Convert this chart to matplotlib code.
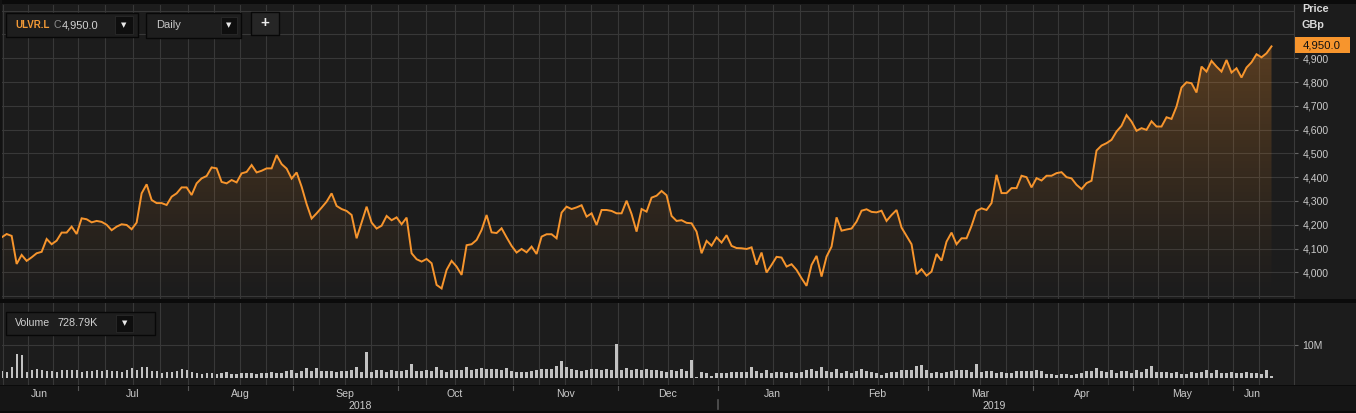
import numpy as np
import matplotlib
matplotlib.use("Agg")
import matplotlib.pyplot as plt
from matplotlib.patches import Rectangle

# ---------------------------------------------------------------------------
# Data (one value per trading day)
# ---------------------------------------------------------------------------

ticker = "ULVR.L"
interval = "Daily"
last_price = 4950.0
last_volume = "728.79K"

close = [
    # Jun - Sep 2018
    4147, 4161, 4153, 4035, 4073, 4048, 4063, 4080, 4086, 4140,
    4118, 4133, 4167, 4167, 4192, 4161, 4227, 4223, 4210, 4216,
    4212, 4200, 4177, 4192, 4202, 4199, 4181, 4209, 4332, 4370,
    4304, 4291, 4291, 4283, 4318, 4332, 4357, 4357, 4325, 4374,
    4395, 4405, 4441, 4437, 4380, 4374, 4388, 4378, 4416, 4422,
    4451, 4420, 4427, 4437, 4437, 4493, 4455, 4436, 4394, 4420,
    4360, 4287, 4226, 4248, 4272, 4297,
    # Sep - Dec 2018
    4332, 4279, 4266, 4258, 4241, 4143, 4209, 4276, 4209, 4184,
    4196, 4237, 4219, 4231, 4202, 4230, 4080, 4055, 4045, 4056,
    4038, 3947, 3932, 4010, 4048, 4024, 3989, 4114, 4118, 4136,
    4178, 4241, 4168, 4165, 4185, 4147, 4111, 4083, 4098, 4084,
    4108, 4077, 4150, 4160, 4160, 4143, 4251, 4276, 4266, 4273,
    4282, 4234, 4248, 4199, 4262, 4262, 4258, 4248, 4248, 4301,
    4245, 4171, 4266, 4255, 4314, 4322,
    # Dec 2018 - Mar 2019
    4342, 4324, 4237, 4216, 4219, 4208, 4206, 4171, 4080, 4132,
    4112, 4147, 4125, 4156, 4111, 4102, 4101, 4098, 4105, 4032,
    4083, 3999, 4031, 4065, 4062, 4024, 4034, 4010, 3975, 3943,
    4031, 4069, 3982, 4066, 4108, 4231, 4175, 4180, 4184, 4213,
    4259, 4265, 4254, 4252, 4259, 4216, 4241, 4262, 4188, 4153,
    4118, 3992, 4013, 3986, 4003, 4077, 4049, 4129, 4167, 4118,
    4143, 4143, 4195, 4258, 4269, 4262,
    # Mar - Jun 2019
    4291, 4410, 4333, 4333, 4354, 4354, 4406, 4400, 4357, 4396,
    4386, 4406, 4406, 4417, 4421, 4400, 4395, 4368, 4350, 4375,
    4385, 4512, 4533, 4543, 4557, 4592, 4616, 4661, 4634, 4595,
    4606, 4599, 4635, 4613, 4613, 4652, 4645, 4697, 4777, 4799,
    4795, 4756, 4865, 4844, 4889, 4865, 4844, 4893, 4840, 4858,
    4819, 4861, 4883, 4917, 4904, 4921, 4950,
]

# volume in millions of shares
volume_m = [
    2.1, 1.8, 3.2, 7.4, 6.9, 1.8, 2.3, 2.7, 2.3, 2.2,
    2.0, 1.8, 2.3, 2.3, 2.3, 2.5, 1.8, 2.0, 2.1, 2.4,
    2.0, 2.3, 2.0, 2.2, 1.9, 2.3, 3.1, 2.3, 3.2, 3.2,
    2.2, 2.1, 1.6, 1.7, 1.8, 2.0, 2.7, 2.5, 1.7, 1.4,
    1.3, 1.5, 1.6, 1.3, 1.6, 1.9, 1.3, 1.3, 1.4, 1.5,
    1.5, 1.3, 1.5, 1.6, 1.7, 1.4, 1.6, 2.0, 2.5, 1.6,
    2.0, 3.1, 2.0, 2.9, 2.1, 2.1, 2.2, 1.8, 2.1, 2.2,
    2.3, 3.2, 1.8, 8.0, 1.8, 2.3, 2.3, 1.9, 2.5, 2.0,
    2.1, 2.3, 4.1, 2.2, 2.0, 2.4, 2.2, 3.3, 2.5, 1.8,
    2.3, 2.5, 2.3, 3.2, 2.4, 2.8, 2.9, 2.8, 2.6, 2.7,
    2.3, 3.1, 2.0, 1.8, 1.9, 1.9, 2.1, 2.3, 2.6, 2.7,
    2.7, 3.6, 5.0, 3.2, 2.6, 2.5, 2.0, 2.3, 2.6, 2.7,
    2.5, 2.7, 2.5, 10.4, 2.3, 3.1, 2.3, 2.7, 2.5, 2.6,
    2.4, 2.3, 2.2, 1.9, 2.4, 2.0, 2.8, 2.0, 5.3, 0.2,
    1.7, 1.6, 0.5, 1.5, 1.6, 1.5, 1.7, 1.8, 1.7, 1.9,
    3.3, 2.0, 1.6, 2.4, 1.4, 1.8, 1.9, 1.6, 1.7, 1.6,
    1.9, 2.3, 2.6, 2.2, 3.3, 2.2, 1.8, 2.6, 1.6, 2.2,
    1.5, 2.0, 2.6, 2.0, 1.8, 1.5, 1.0, 1.6, 1.7, 1.9,
    2.3, 2.4, 2.3, 3.6, 3.9, 2.3, 1.6, 1.7, 1.6, 1.8,
    2.0, 2.4, 2.4, 2.4, 1.9, 4.1, 1.8, 2.1, 2.0, 1.6,
    1.8, 1.5, 1.6, 2.0, 2.0, 2.2, 2.0, 2.3, 2.1, 1.3,
    1.2, 1.0, 1.1, 1.2, 1.0, 1.3, 1.6, 2.2, 2.0, 2.9,
    2.2, 1.8, 2.3, 1.5, 2.0, 2.0, 1.6, 2.3, 1.9, 2.6,
    3.5, 1.8, 1.7, 1.8, 1.4, 1.8, 1.3, 1.2, 1.8, 1.6,
    1.9, 2.3, 1.5, 2.3, 1.6, 1.4, 1.7, 1.5, 1.6, 1.7,
    1.5, 1.6, 1.3, 2.3, 0.73,
]

# index of the first trading day of each month (June 2018 began before the series)
month_start_idx = [-4, 16, 38, 59, 80, 103, 124, 144, 166, 186, 207, 227, 247]
month_names = ["Jun", "Jul", "Aug", "Sep", "Oct", "Nov", "Dec",
               "Jan", "Feb", "Mar", "Apr", "May", "Jun"]
year_names = ["2018", "2019"]
year_first_month = [0, 7]

price_ticks = [4000, 4100, 4200, 4300, 4400, 4500, 4600, 4700, 4800, 4900]
volume_ticks = [10]

# ---------------------------------------------------------------------------
# Style
# ---------------------------------------------------------------------------

W, H = 1356, 413
BG = "#1c1c1c"
DARK = "#0b0b0b"
GRID = "#383838"
ORANGE = "#f7952d"
TXT = "#cacaca"

plt.rcParams["font.family"] = ["Liberation Sans", "DejaVu Sans"]


def rect(x0, y0, x1, y1):
    """pixel box (top-left origin) -> figure fraction [l, b, w, h]"""
    return [x0 / W, 1 - y1 / H, (x1 - x0) / W, (y1 - y0) / H]


n = len(close)
x = np.arange(n)
xmin, xmax = 0.07, 258.5
p_lo, p_hi = 3887.7, 5124.0

bounds = [m - 0.8 for m in month_start_idx]
grid_x = []
for k, b in enumerate(bounds):
    nxt = bounds[k + 1] if k + 1 < len(bounds) else b + 21
    for q in range(4):
        gx = b + q * (nxt - b) / 4
        if xmin < gx < n:
            grid_x.append(gx)

fig = plt.figure(figsize=(W / 100, H / 100), dpi=100, facecolor=BG)

# ---------------------------------------------------------------------------
# Price panel
# ---------------------------------------------------------------------------

ax = fig.add_axes(rect(2, 5, 1294, 299), facecolor=BG)
for gx in grid_x:
    ax.axvline(gx, color=GRID, lw=0.8, zorder=0)
for p in range(3900, 5200, 100):
    ax.axhline(p, color=GRID, lw=0.8, zorder=0)

poly = ax.fill_between(x, close, p_lo, color="none", lw=0)
t = np.linspace(0, 1, 256)
grad = np.zeros((256, 1, 4))
grad[:, 0, 0] = 0.97
grad[:, 0, 1] = 0.58
grad[:, 0, 2] = 0.18
grad[:, 0, 3] = 0.29 * t ** 1.15
im = ax.imshow(grad, extent=[x[0], x[-1], p_lo, 5000], origin="lower",
               aspect="auto", zorder=1, interpolation="bilinear")
im.set_clip_path(poly.get_paths()[0], transform=ax.transData)
ax.plot(x, close, color=ORANGE, lw=1.4, zorder=3, solid_joinstyle="miter")

ax.set_xlim(xmin, xmax)
ax.set_ylim(p_lo, p_hi)
ax.set_xticks([])
ax.yaxis.tick_right()
ax.set_yticks(price_ticks)
ax.set_yticklabels([f"{v:,}" for v in price_ticks])
ax.tick_params(axis="y", colors="#666666", labelcolor=TXT, length=3,
               width=0.8, pad=3, labelsize=7.6)
for s in ["top", "left", "bottom"]:
    ax.spines[s].set_visible(False)
ax.spines["right"].set_color("#3a3a3a")

# ---------------------------------------------------------------------------
# Volume panel
# ---------------------------------------------------------------------------

av = fig.add_axes(rect(2, 303, 1294, 385), facecolor=BG)
for gx in grid_x:
    av.axvline(gx, color=GRID, lw=0.8, zorder=0)
for v in volume_ticks:
    av.axhline(v, color=GRID, lw=0.8, zorder=0)
av.bar(x, volume_m, width=0.45, color="#c2c2c2", zorder=2)
av.set_xlim(xmin, xmax)
av.set_ylim(-2.12, 22.7)
av.set_xticks([])
av.yaxis.tick_right()
av.set_yticks(volume_ticks)
av.set_yticklabels([f"{v}M" for v in volume_ticks])
av.tick_params(axis="y", colors="#666666", labelcolor=TXT, length=3,
               width=0.8, pad=3, labelsize=7.6)
for s in ["top", "left", "bottom"]:
    av.spines[s].set_visible(False)
av.spines["right"].set_color("#3a3a3a")

# ---------------------------------------------------------------------------
# Overlay in pixel coordinates: bands, date strip, header widgets
# ---------------------------------------------------------------------------

ov = fig.add_axes([0, 0, 1, 1], facecolor="none", zorder=10)
ov.set_xlim(0, W)
ov.set_ylim(H, 0)
ov.axis("off")

ov.add_patch(Rectangle((0, 0), W, 4, color=DARK, lw=0))
ov.add_patch(Rectangle((0, 0), 2, 300, color="#121212", lw=0))
ov.add_patch(Rectangle((0, 299), W, 4, color=DARK, lw=0))
ov.add_patch(Rectangle((0, 385), W, 28, color="#151515", lw=0))
ov.add_patch(Rectangle((0, 384.5), W, 1.5, color=DARK, lw=0))
ov.add_patch(Rectangle((0, 411), W, 2, color=DARK, lw=0))


def to_px(i):
    return 2 + (i - xmin) / (xmax - xmin) * 1292


# month ticks and labels
for k, b in enumerate(bounds):
    if b > xmin:
        ov.plot([to_px(b)] * 2, [386, 390], color="#555555", lw=0.8)
    lo = max(b, xmin)
    hi = min(bounds[k + 1] if k + 1 < len(bounds) else n - 1, n - 1)
    ov.text(to_px((lo + hi) / 2), 394, month_names[k], color=TXT,
            fontsize=7.6, ha="center", va="center")

# year labels with a divider at the turn of the year
for k, m in enumerate(year_first_month):
    lo = max(bounds[m], xmin)
    hi = bounds[year_first_month[k + 1]] if k + 1 < len(year_first_month) else n - 1
    ov.text(to_px((lo + hi) / 2), 406, year_names[k], color=TXT,
            fontsize=7.6, ha="center", va="center")
    if k > 0:
        ov.plot([to_px(bounds[m])] * 2, [400, 409], color="#555555", lw=1.2)

# right-hand header and last price tag
ov.text(1302, 9.5, "Price", color="#dadada", fontsize=7.8, weight="bold",
        va="center")
ov.text(1302, 24.5, "GBp", color="#dadada", fontsize=7.8, weight="bold",
        va="center")
ov.add_patch(Rectangle((1295, 37), 55, 16, color=ORANGE, lw=0))
ov.text(1322, 45, f"{last_price:,.1f}", color="#111111", fontsize=8.2,
        ha="center", va="center")


def box(x0, y0, x1, y1, fc="#1e1e1e"):
    ov.add_patch(Rectangle((x0, y0), x1 - x0, y1 - y0, facecolor=fc,
                           edgecolor="#080808", lw=1.0))


def dropdown(x0, y0, x1, y1):
    ov.add_patch(Rectangle((x0, y0), x1 - x0, y1 - y0, facecolor="#0e0e0e",
                           edgecolor="#2a2a2a", lw=0.6))
    ov.text((x0 + x1) / 2, (y0 + y1) / 2, "\u25bc", color="#e8e8e8",
            fontsize=5, ha="center", va="center", family="DejaVu Sans")


box(6, 13, 138, 37)
ov.text(15, 25, ticker, color="#f39a37", fontsize=7.0, weight="bold",
        va="center")
ov.text(53.5, 25, "C", color="#8c8c8c", fontsize=7.6, va="center")
ov.text(62, 25, f"{last_price:,.1f}", color="#d2d2d2", fontsize=8.0,
        va="center")
dropdown(115, 16, 133, 34)

box(146, 13, 241, 38)
ov.text(156, 25.5, interval, color="#c8c8c8", fontsize=8.0, va="center")
dropdown(221, 17, 237, 34)

box(251, 12, 279, 35, fc="#262626")
ov.text(265, 23, "+", color="#eeeeee", fontsize=11, weight="bold",
        ha="center", va="center")

box(6, 312, 155, 335)
ov.text(15, 323.5, "Volume", color="#d0d0d0", fontsize=7.6, va="center")
ov.text(57, 323.5, last_volume, color="#d0d0d0", fontsize=7.8, va="center")
dropdown(116, 315, 133, 332)

fig.savefig("out.png", dpi=100, facecolor=BG)
